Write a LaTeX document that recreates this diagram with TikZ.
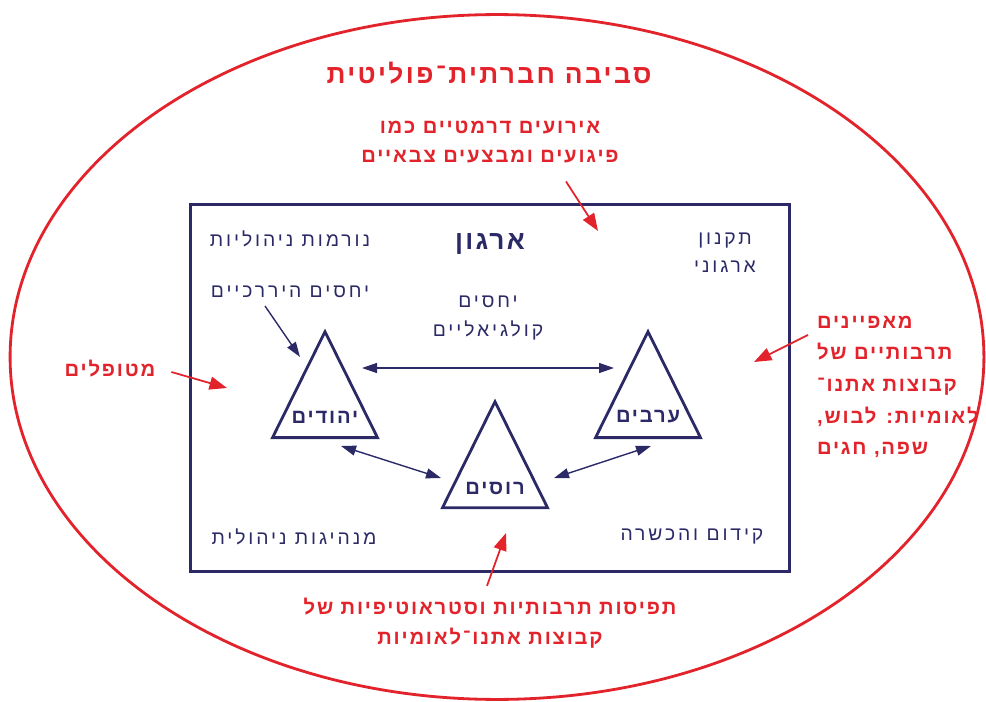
\documentclass[tikz,border=0pt]{standalone}
\usepackage{fontspec}
\usepackage{xcolor}
\usepackage{tikz}
\usetikzlibrary{arrows.meta,positioning,shapes.geometric}
\TeXXeTstate=1
\newfontfamily\hebfont[Script=Hebrew,LetterSpace=15]{Liberation Sans}
\newfontfamily\hebbold[Script=Hebrew,LetterSpace=9]{Liberation Sans}
\newcommand{\rl}[1]{\beginR #1\endR}
\definecolor{envred}{HTML}{E3232B}
\definecolor{orgnavy}{HTML}{2B2A66}
\tikzset{
    envtitle/.style={text=envred, inner sep=1pt,
        font=\hebbold\bfseries\fontsize{15}{18}\selectfont},
    envtext/.style={text=envred, align=center, inner sep=1pt,
        font=\hebbold\bfseries\fontsize{11.5}{17}\selectfont},
    orgtext/.style={text=orgnavy, align=center, inner sep=1pt,
        font=\hebfont\fontsize{11}{16}\selectfont},
    orgtitle/.style={text=orgnavy, inner sep=1pt,
        font=\hebbold\bfseries\fontsize{15}{18}\selectfont},
    grouplabel/.style={text=orgnavy, inner sep=1pt,
        font=\hebbold\bfseries\fontsize{11.5}{14}\selectfont},
    group/.style={isosceles triangle, isosceles triangle stretches,
        shape border rotate=90, draw=orgnavy, line width=1.6pt,
        minimum width=2.1cm, minimum height=2.12cm, inner sep=0pt, anchor=apex},
    relation/.style={{Triangle[length=3mm,width=2mm]}-{Triangle[length=3mm,width=2mm]},
        draw=orgnavy, line width=0.8pt},
    pointer/.style={-{Triangle[length=3mm,width=2mm]}, draw=orgnavy, line width=0.8pt},
    influence/.style={-{Triangle[length=3.5mm,width=2.6mm]}, draw=envred, line width=1pt}
}
\begin{document}
\begin{tikzpicture}[x=0.02cm, y=-0.02cm]
    \useasboundingbox (0,0) rectangle (986,702);
    \node[draw=envred, line width=1.6pt, ellipse, inner sep=0pt,
        minimum width=19.48cm, minimum height=13.7cm] (env) at (497,357) {};
    \node[draw=orgnavy, line width=1.7pt, inner sep=0pt,
        minimum width=12cm, minimum height=7.36cm] (org) at (490,388) {};
    % environment
    \node[envtitle] (envname) at (489,73) {\rl{סביבה חברתית־פוליטית}};
    \node[envtext] (events) at (490,142) {\rl{אירועים דרמטיים כמו}\\\rl{פיגועים ומבצעים צבאיים}};
    \node[envtext, align=left, anchor=west, font=\hebbold\bfseries\fontsize{11.5}{18}\selectfont]
        (culture) at (815,387)
        {\rl{מאפיינים}\\\rl{תרבותיים של}\\\rl{קבוצות אתנו־}\\\rl{לאומיות: לבוש,}\\\rl{שפה, חגים}};
    \node[envtext] (patients) at (110,369) {\rl{מטופלים}};
    \node[envtext] (perceptions) at (490,623) {\rl{תפיסות תרבותיות וסטראוטיפיות של}\\\rl{קבוצות אתנו־לאומיות}};
    % organization
    \node[orgtitle] (orgname) at (490,244) {\rl{ארגון}};
    \node[orgtext] (norms) at (290,239) {\rl{נורמות ניהוליות}};
    \node[orgtext] (hierarchy) at (290,292) {\rl{יחסים היררכיים}};
    \node[orgtext] (collegial) at (488,318) {\rl{יחסים}\\\rl{קולגיאליים}};
    \node[orgtext] (charter) at (725,253) {\rl{תקנון}\\\rl{ארגוני}};
    \node[orgtext] (leadership) at (294,537) {\rl{מנהיגות ניהולית}};
    \node[orgtext] (training) at (692,537) {\rl{קידום והכשרה}};
    % groups
    \node[group] (jews) at (325,328) {};
    \node[group] (russians) at (495,398) {};
    \node[group] (arabs) at (648,328) {};
    \node[grouplabel] (jewsname) at ([shift={(0,89)}]jews.apex) {\rl{יהודים}};
    \node[grouplabel] (russiansname) at ([shift={(0,90)}]russians.apex) {\rl{רוסים}};
    \node[grouplabel] (arabsname) at ([shift={(0,89)}]arabs.apex) {\rl{ערבים}};
    \draw[relation] ([shift={(37,40)}]jews.apex) -- ([shift={(-34,40)}]arabs.apex);
    \draw[relation] ([shift={(16,118)}]jews.apex) -- ([shift={(-54,80)}]russians.apex);
    \draw[relation] ([shift={(59,80)}]russians.apex) -- ([shift={(3,118)}]arabs.apex);
    \draw[pointer] ([shift={(-25,6)}]hierarchy.south) -- ([shift={(-25,29)}]jews.apex);
    % influences
    \coordinate (eventsTip) at (598,231);
    \coordinate (cultureTip) at (754,362);
    \coordinate (patientsTip) at (227,388);
    \coordinate (perceptionsTip) at (506,533);
    \draw[influence] ([shift={(76,16)}]events.south) -- (eventsTip);
    \draw[influence] ([shift={(-7,21)}]culture.north west) -- (cultureTip);
    \draw[influence] ([shift={(14,3)}]patients.east) -- (patientsTip);
    \draw[influence] ([shift={(-3,-10)}]perceptions.north) -- (perceptionsTip);
\end{tikzpicture}
\end{document}
